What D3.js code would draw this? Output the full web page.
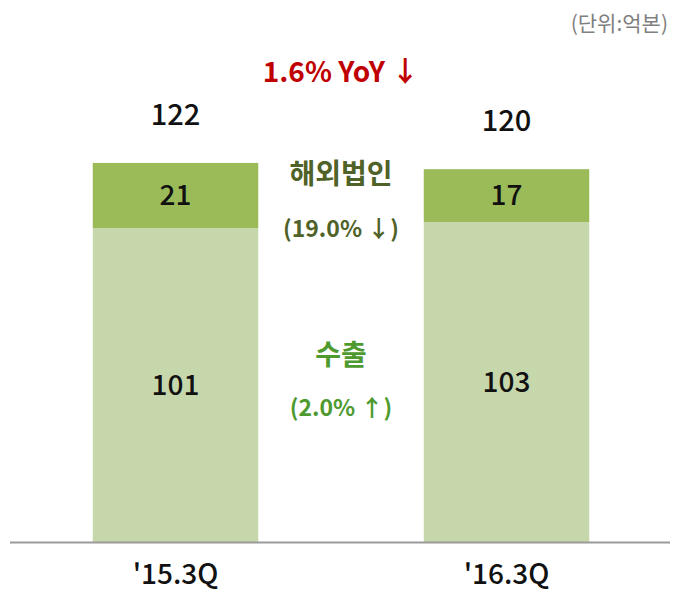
<!DOCTYPE html>
<html>
<head>
<meta charset="utf-8">
<script src="https://cdn.jsdelivr.net/npm/d3@7"></script>
<style>
  body { margin: 0; background: #fff; }
  text { font-family: "Noto Sans CJK KR", "Noto Sans", sans-serif; }
</style>
</head>
<body>
<svg width="678" height="592"></svg>
<script>
// data
const quarters = ["'15.3Q", "'16.3Q"];
const exportVals = [101, 103];   // 수출
const overseasVals = [21, 17];   // 해외법인
const totals = [122, 120];

const svg = d3.select("svg");
const baseY = 542;

const x = d3.scaleBand()
  .domain(quarters)
  .range([10, 672])
  .paddingInner(0.5)
  .paddingOuter(0.25);

const y = d3.scaleLinear()
  .domain([0, 130])
  .range([baseY, baseY - 130 * 3.107]);

const rows = quarters.map((q, i) => ({ q: q, exp: exportVals[i], ovs: overseasVals[i], tot: totals[i] }));

// bars - export (bottom)
svg.selectAll(".exp")
  .data(rows)
  .enter().append("rect")
  .attr("class", "exp")
  .attr("x", d => x(d.q))
  .attr("width", x.bandwidth())
  .attr("y", d => y(d.exp))
  .attr("height", d => y(0) - y(d.exp))
  .attr("fill", "#c6d7ac");

// bars - overseas (top)
svg.selectAll(".ovs")
  .data(rows)
  .enter().append("rect")
  .attr("class", "ovs")
  .attr("x", d => x(d.q))
  .attr("width", x.bandwidth())
  .attr("y", d => y(d.exp + d.ovs))
  .attr("height", d => y(d.exp) - y(d.exp + d.ovs))
  .attr("fill", "#9bbb59");

// segment labels
svg.selectAll(".expLbl")
  .data(rows)
  .enter().append("text")
  .attr("x", d => x(d.q) + x.bandwidth() / 2)
  .attr("y", d => y(d.exp / 2))
  .attr("dy", "0.35em")
  .attr("text-anchor", "middle")
  .style("font-size", "28px")
  .style("font-weight", "500")
  .attr("fill", "#111")
  .text(d => d.exp);

svg.selectAll(".ovsLbl")
  .data(rows)
  .enter().append("text")
  .attr("x", d => x(d.q) + x.bandwidth() / 2)
  .attr("y", d => y(d.exp + d.ovs / 2))
  .attr("dy", "0.35em")
  .attr("text-anchor", "middle")
  .style("font-size", "28px")
  .style("font-weight", "500")
  .attr("fill", "#111")
  .text(d => d.ovs);

// totals
svg.selectAll(".totLbl")
  .data(rows)
  .enter().append("text")
  .attr("x", d => x(d.q) + x.bandwidth() / 2)
  .attr("y", d => y(d.tot) - 48)
  .attr("dy", "0.35em")
  .attr("text-anchor", "middle")
  .style("font-size", "29px")
  .style("font-weight", "500")
  .attr("fill", "#111")
  .text(d => d.tot);

// baseline
svg.append("line")
  .attr("x1", 10).attr("x2", 670)
  .attr("y1", baseY + 0.5).attr("y2", baseY + 0.5)
  .attr("stroke", "#9a9a9a")
  .attr("stroke-width", 2);

// x labels
svg.append("g")
  .attr("transform", "translate(0," + baseY + ")")
  .call(d3.axisBottom(x).tickSize(0).tickPadding(22))
  .call(g => g.select(".domain").remove())
  .selectAll("text")
  .style("font-family", "\"Noto Sans CJK KR\", sans-serif")
  .style("font-size", "28px")
  .style("font-weight", "500")
  .attr("fill", "#111");

// annotations
const midX = (x(quarters[0]) + x.bandwidth() + x(quarters[1])) / 2;

svg.append("text")
  .attr("x", 668).attr("y", 24).attr("dy", "0.35em")
  .attr("text-anchor", "end")
  .style("font-size", "21px")
  .attr("fill", "#808080")
  .text("(단위:억본)");

svg.append("text")
  .attr("x", midX).attr("y", 72).attr("dy", "0.35em")
  .attr("text-anchor", "middle")
  .style("font-size", "28px")
  .style("font-weight", "700")
  .attr("fill", "#c00000")
  .text("1.6% YoY ↓");

svg.append("text")
  .attr("x", midX).attr("y", 174).attr("dy", "0.35em")
  .attr("text-anchor", "middle")
  .style("font-size", "28px")
  .style("font-weight", "700")
  .attr("fill", "#4f6228")
  .text("해외법인");

svg.append("text")
  .attr("x", midX).attr("y", 229).attr("dy", "0.35em")
  .attr("text-anchor", "middle")
  .style("font-size", "23px")
  .style("font-weight", "700")
  .attr("fill", "#4f6228")
  .text("(19.0% ↓)");

svg.append("text")
  .attr("x", midX).attr("y", 355).attr("dy", "0.35em")
  .attr("text-anchor", "middle")
  .style("font-size", "28px")
  .style("font-weight", "700")
  .attr("fill", "#4e9a2f")
  .text("수출");

svg.append("text")
  .attr("x", midX).attr("y", 408).attr("dy", "0.35em")
  .attr("text-anchor", "middle")
  .style("font-size", "23px")
  .style("font-weight", "700")
  .attr("fill", "#4e9a2f")
  .text("(2.0% ↑)");
</script>
</body>
</html>
